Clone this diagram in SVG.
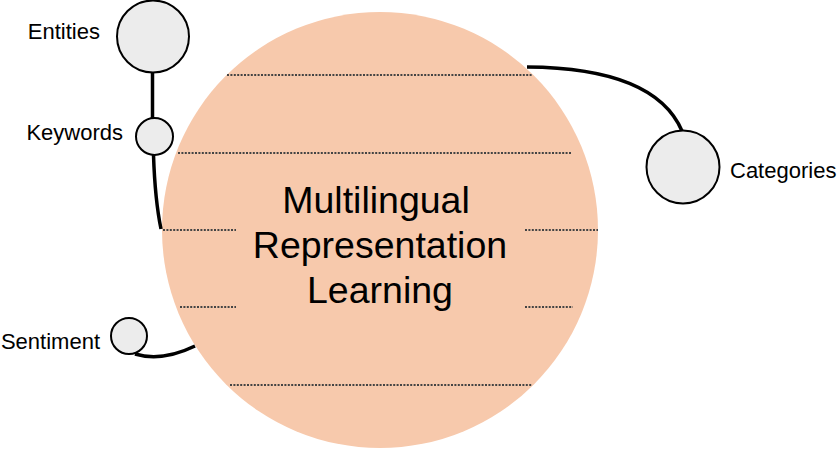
<svg xmlns="http://www.w3.org/2000/svg" width="840" height="450" viewBox="0 0 840 450">
<style>
.lbl{font-family:"Liberation Sans",Arial,sans-serif;font-size:22px;fill:#000}
.main{font-family:"Liberation Sans",Arial,sans-serif;font-size:37.5px;fill:#000;text-anchor:middle}
.node{fill:#ECECEC;stroke:#000;stroke-width:2}
.dot{stroke:#444;stroke-width:2;stroke-dasharray:2 1.4;fill:none}
.conn{stroke:#000;stroke-width:3.5;fill:none;stroke-linecap:butt}
</style>
<rect width="840" height="450" fill="#fff"/>
<g id="center">
<circle cx="380" cy="230" r="218" fill="#F7C9AC"/>
<line class="dot" x1="227" y1="75" x2="533" y2="75"/>
<line class="dot" x1="178" y1="153" x2="571" y2="153"/>
<line class="dot" x1="163" y1="230" x2="236" y2="230"/>
<line class="dot" x1="525" y1="230" x2="598" y2="230"/>
<line class="dot" x1="180" y1="307" x2="236" y2="307"/>
<line class="dot" x1="525" y1="307" x2="573" y2="307"/>
<line class="dot" x1="230" y1="385" x2="532" y2="385"/>
<text class="main" x="376" y="213">Multilingual</text>
<text class="main" x="380" y="258">Representation</text>
<text class="main" x="380" y="303">Learning</text>
</g>
<g id="connectors">
<line class="conn" x1="152.5" y1="72" x2="152.5" y2="118"/>
<path class="conn" d="M153.5 155 Q155 200 161 229"/>
<path class="conn" d="M135 354 Q162 362 195 346"/>
<path class="conn" d="M527 67 Q655 68 682 131"/>
</g>
<g id="entities">
<circle class="node" cx="153" cy="36.5" r="36"/>
<text class="lbl" x="100" y="39" text-anchor="end">Entities</text>
</g>
<g id="keywords">
<circle class="node" cx="154.5" cy="136.5" r="18.5"/>
<text class="lbl" x="123" y="140" text-anchor="end">Keywords</text>
</g>
<g id="sentiment">
<circle class="node" cx="129" cy="336" r="18"/>
<text class="lbl" x="100" y="349" text-anchor="end">Sentiment</text>
</g>
<g id="categories">
<circle class="node" cx="683" cy="167" r="36.5"/>
<text class="lbl" x="730" y="178">Categories</text>
</g>
</svg>
